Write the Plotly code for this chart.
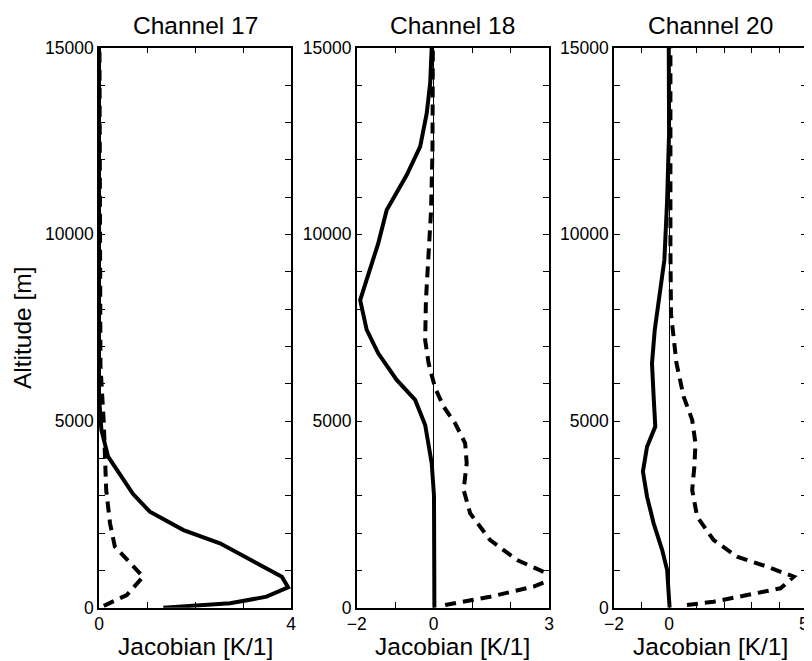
import plotly.graph_objects as go

# ---------------- data ----------------
titles = ["Channel 17", "Channel 18", "Channel 20"]

# Channel 17
ch17_solid_alt = [0, 118, 295, 545, 830, 1230, 1725, 2080, 2570, 3045, 4045, 4760, 5650, 7000, 10000, 15000]
ch17_solid_val = [1.34, 2.73, 3.49, 3.94, 3.81, 3.25, 2.52, 1.76, 1.06, 0.71, 0.19, 0.05, 0.0, 0.0, 0.0, 0.0]
ch17_dash_alt = [50, 340, 830, 1145, 1635, 2260, 3150, 4045, 4945, 6500, 10000, 15000]
ch17_dash_val = [0.10, 0.58, 0.92, 0.68, 0.33, 0.23, 0.15, 0.125, 0.10, 0.03, 0.015, 0.01]

# Channel 18
ch18_solid_alt = [0, 3000, 3870, 4895, 5565, 6100, 6815, 7440, 8240, 9045, 9760, 10650, 11590, 12350, 13240, 14045, 15000]
ch18_solid_val = [0.02, 0.01, -0.05, -0.22, -0.48, -0.96, -1.44, -1.74, -1.91, -1.65, -1.44, -1.22, -0.70, -0.35, -0.18, -0.09, -0.05]
ch18_dash_alt = [70, 160, 295, 565, 800, 920, 1275, 1810, 2530, 3155, 3870, 4405, 4940, 5385, 5880, 6545, 7170, 8240, 9400, 10570, 12200, 15000]
ch18_dash_val = [0.30, 0.78, 1.47, 2.6, 3.15, 2.95, 2.17, 1.47, 0.95, 0.78, 0.86, 0.82, 0.56, 0.26, 0.04, -0.13, -0.22, -0.20, -0.13, -0.07, -0.03, -0.02]

# Channel 20
ch20_solid_alt = [0, 1010, 1545, 2260, 2975, 3645, 4310, 4850, 5655, 6545, 7440, 8240, 9315, 10920, 12700, 15000]
ch20_solid_val = [0.02, -0.07, -0.25, -0.56, -0.80, -0.95, -0.80, -0.50, -0.56, -0.62, -0.52, -0.38, -0.17, -0.07, 0.0, -0.01]
ch20_dash_alt = [70, 160, 340, 520, 830, 1100, 1365, 1810, 2440, 3155, 3780, 4405, 5030, 5655, 6545, 7350, 7880, 9580, 11300, 15000]
ch20_dash_val = [0.65, 1.62, 2.84, 4.05, 4.53, 3.56, 2.47, 1.62, 1.02, 0.84, 0.92, 0.96, 0.84, 0.53, 0.27, 0.15, 0.07, 0.05, 0.05, 0.05]

x_ranges = [[0, 4], [-2, 3], [-2, 5]]
x_tickvals = [[0, 1, 2, 3, 4], [-2, -1, 0, 1, 2, 3], [-2, -1, 0, 1, 2, 3, 4, 5]]
x_ticktext = [["0", "", "", "", "4"], ["\u22122", "", "0", "", "", "3"], ["\u22122", "", "0", "", "", "", "", ""]]
last_x_label = "5"  # Channel 20 right-end tick label, placed flush with the page edge
y_tickvals = list(range(0, 15001, 1000))
y_ticktext = [str(v) if v % 5000 == 0 else "" for v in y_tickvals]
x_title = "Jacobian [K/1]"
y_title = "Altitude [m]"

# ---------------- figure ----------------
OFF = 8  # page body margin offset
W, H = 812 - OFF, 661 - OFF
FONT = "Liberation Sans, Arial, Helvetica, sans-serif"
panels_px = [(99, 291), (356.7, 549), (614, 806.7)]
y_bot_px, y_top_px = 607.7, 47.7


def fx(px):
    return (px - OFF) / W


def fy(py):
    return (H - (py - OFF)) / H


series = [
    (ch17_solid_alt, ch17_solid_val, ch17_dash_alt, ch17_dash_val),
    (ch18_solid_alt, ch18_solid_val, ch18_dash_alt, ch18_dash_val),
    (ch20_solid_alt, ch20_solid_val, ch20_dash_alt, ch20_dash_val),
]

fig = go.Figure()
layout = dict(
    width=W, height=H,
    margin=dict(l=0, r=0, t=0, b=0, autoexpand=False),
    paper_bgcolor="white", plot_bgcolor="white",
    showlegend=False,
    font=dict(family=FONT, color="black"),
    annotations=[],
)

for i, (sa, sv, da, dv) in enumerate(series):
    n = "" if i == 0 else str(i + 1)
    xa, ya = "x" + n, "y" + n
    fig.add_trace(go.Scatter(x=dv, y=da, mode="lines", xaxis=xa, yaxis=ya,
                             line=dict(color="black", width=4, dash="11px,7px")))
    fig.add_trace(go.Scatter(x=sv, y=sa, mode="lines", xaxis=xa, yaxis=ya,
                             line=dict(color="black", width=4)))
    x0, x1 = panels_px[i]
    layout["xaxis" + n] = dict(
        domain=[fx(x0), fx(x1)], anchor=ya, range=x_ranges[i], automargin=False,
        tickvals=x_tickvals[i], ticktext=x_ticktext[i],
        ticks="inside", ticklen=6, tickwidth=1, tickcolor="black",
        showline=True, linecolor="black", linewidth=1.5, mirror="ticks",
        showgrid=False, zeroline=(i > 0), zerolinecolor="black", zerolinewidth=1,
        tickfont=dict(size=17.5, family=FONT, color="black"),
        fixedrange=True,
    )
    layout["yaxis" + n] = dict(
        domain=[fy(y_bot_px), fy(y_top_px)], anchor=xa, range=[0, 15000],
        automargin=False,
        tickvals=y_tickvals, ticktext=y_ticktext,
        ticks="inside", ticklen=6, tickwidth=1, tickcolor="black",
        showline=True, linecolor="black", linewidth=1.5, mirror="ticks",
        showgrid=False, zeroline=False,
        tickfont=dict(size=17.5, family=FONT, color="black"),
        fixedrange=True,
    )
    cx = fx((x0 + x1) / 2)
    layout["annotations"].append(dict(
        text=titles[i], x=cx, y=fy(25), xref="paper", yref="paper",
        xanchor="center", yanchor="middle", showarrow=False,
        font=dict(size=24.5, family=FONT, color="black")))
    layout["annotations"].append(dict(
        text=x_title, x=cx, y=fy(646), xref="paper", yref="paper",
        xanchor="center", yanchor="middle", showarrow=False,
        font=dict(size=24.5, family=FONT, color="black")))

layout["annotations"].append(dict(
    text=last_x_label, x=1.0, y=fy(624), xref="paper", yref="paper",
    xanchor="right", yanchor="middle", showarrow=False, xshift=-1,
    font=dict(size=17.5, family=FONT, color="black")))

layout["annotations"].append(dict(
    text=y_title, x=fx(22), y=fy(328), xref="paper", yref="paper",
    xanchor="center", yanchor="middle", showarrow=False, textangle=-90,
    font=dict(size=24.5, family=FONT, color="black")))

fig.update_layout(**layout)
fig.write_html("out.html")
